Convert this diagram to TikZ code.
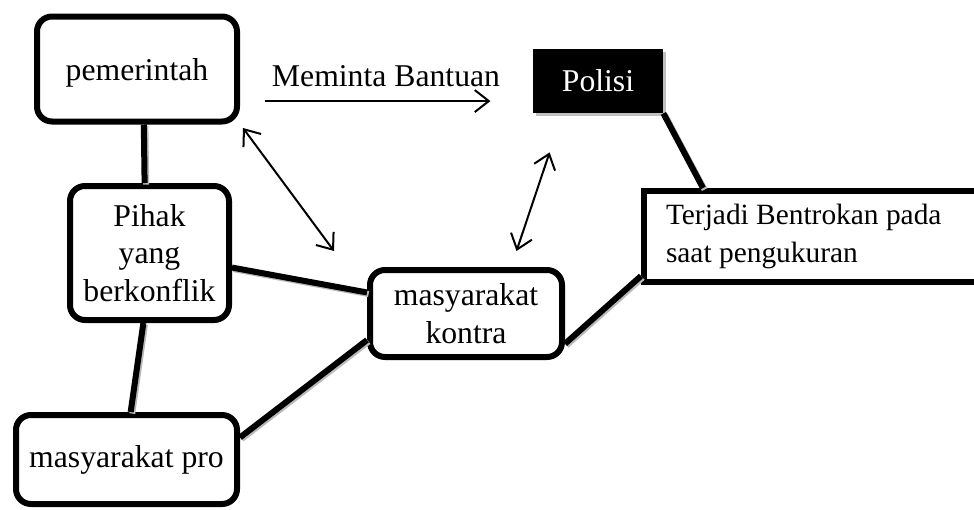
\documentclass[tikz,border=0pt]{standalone}
\usepackage{fontspec}
\setmainfont{Liberation Serif}
\usetikzlibrary{arrows.meta,shadows}

\begin{document}
\begin{tikzpicture}[x=0.5pt,y=-0.5pt,
  kotak/.style={draw, line width=3pt, rounded corners=7.5pt, align=center, inner sep=0pt, font=\fontsize{15.85}{18.75}\selectfont},
  garis/.style={line width=3pt, preaction={draw=gray!55, line width=3pt, transform canvas={shift={(0.8pt,-0.8pt)}}}},
  panah/.style={{Straight Barb[length=7pt,width=11pt]}-{Straight Barb[length=7pt,width=11pt]}, line width=1pt}]
\useasboundingbox (0,0) rectangle (974,509);
\node[kotak, minimum width=100pt, minimum height=52.5pt, text depth=0pt] (pemerintah) at (137,69) {pemerintah};
\node[kotak, minimum width=79.5pt, minimum height=67pt] (pihak) at (149.5,253) {Pihak\\yang\\berkonflik};
\node[kotak, minimum width=110.5pt, minimum height=44.5pt] (pro) at (126.5,459.5) {masyarakat pro};
\node[kotak, minimum width=96pt, minimum height=43.5pt] (kontra) at (466,313.5) {masyarakat\\kontra};
\node[fill=black, text=white, minimum width=65pt, minimum height=32pt, font=\fontsize{15.85}{18.75}\selectfont,
  drop shadow={shadow xshift=1.5pt, shadow yshift=-1.5pt, fill=gray!50, opacity=1}] (polisi) at (598,81) {Polisi};
\node[draw, line width=3pt, anchor=west, align=flush left, text width=152.5pt, inner xsep=11pt, minimum height=45.5pt,
  font=\fontsize{14.7}{19}\selectfont] (bentrok) at (641,236.5) {Terjadi Bentrokan pada\\saat pengukuran};
\node[inner sep=0pt, font=\fontsize{15.85}{18.75}\selectfont] (minta) at (386,76) {Meminta Bantuan};
\draw[garis] (pemerintah.-83) -- (pihak.94);
\draw[garis] (pihak.-95) -- (pro.85);
\draw[garis] (pihak.-10) -- (kontra.168);
\draw[garis] (pro.11) -- (kontra.-165);
\draw[garis] (kontra.-17) -- ([yshift=4.5pt]bentrok.south west);
\draw[garis] (polisi.south east) -- ([xshift=31pt]bentrok.north west);
\draw[-{Straight Barb[length=7pt,width=11pt]}, line width=1pt] ([shift={(-3.5pt,-7pt)}]minta.south west) -- ([shift={(-5pt,-7pt)}]minta.south east);
\draw[panah] ([shift={(1.5pt,-1.75pt)}]pemerintah.south east) -- ([shift={(-16.5pt,8pt)}]kontra.north west);
\draw[panah] ([shift={(25.25pt,8pt)}]kontra.north) -- ([shift={(8.5pt,-19.5pt)}]polisi.south west);
\end{tikzpicture}
\end{document}
